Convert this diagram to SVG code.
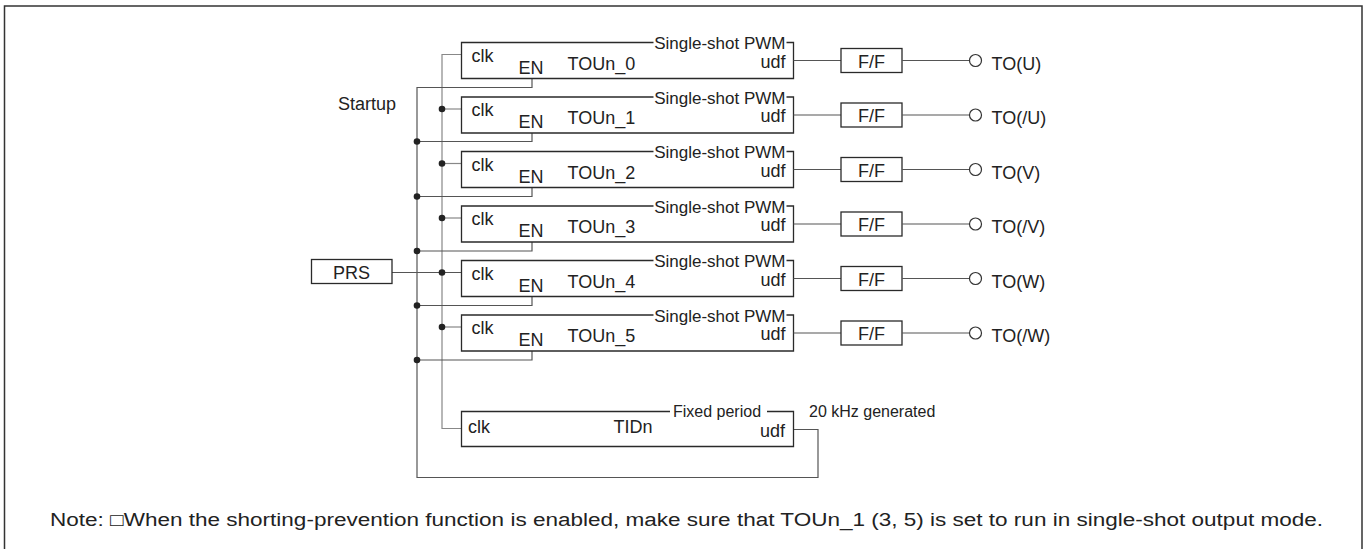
<svg xmlns="http://www.w3.org/2000/svg" width="1370" height="549" viewBox="0 0 1370 549">
<style>
.frame{fill:none;stroke:#333;stroke-width:1.5}
.blk{fill:none;stroke:#2a2a2a;stroke-width:1.3}
.wire{fill:none;stroke:#555;stroke-width:1.2}
.wclk{fill:none;stroke:#888;stroke-width:1.2}
.dot{fill:#222}
.pin{fill:#fff;stroke:#333;stroke-width:1.2}
text{font-family:"Liberation Sans",Arial,sans-serif;fill:#222}
.t16{font-size:16px}
.t17{font-size:17px}
.t18{font-size:18px}
.end{text-anchor:end}
.mid{text-anchor:middle}
</style>
<defs>
<g id="tou">
<path class="blk" d="M192,0 H0 V36 H332 V0 H325"/>
<text class="t17 end" x="324" y="6.5">Single-shot PWM</text>
<text class="t18" x="10" y="19">clk</text>
<text class="t18" x="57" y="31">EN</text>
<text class="t18 end" x="324" y="25">udf</text>
<path class="wire" d="M332,18 H379.5"/>
<rect class="blk" x="379.5" y="6" width="61" height="24"/>
<text class="t18 mid" x="410" y="25">F/F</text>
<path class="wire" d="M440.5,18 H508"/>
<circle class="pin" cx="514" cy="18" r="6"/>
</g>
</defs>
<path class="frame" d="M4.5,549 V6 H1362 V549"/>

<g id="connectors">
<path class="wclk" d="M461.5,54.5 H442 V428.5 H461.5"/>
<path class="wire" d="M532,78.5 V87.5 H417 V477.5 H818 V429.5 H793.5"/>
<path class="wire" d="M532,133 V141.5 H417"/>
<path class="wire" d="M532,187.5 V196.5 H417"/>
<path class="wire" d="M532,242 V251 H417"/>
<path class="wire" d="M532,296.5 V305.5 H417"/>
<path class="wire" d="M532,351 V360 H417"/>
<path class="wclk" d="M442,109 H461.5"/>
<path class="wclk" d="M442,163.5 H461.5"/>
<path class="wclk" d="M442,218 H461.5"/>
<path class="wire" d="M392,272.5 H461.5"/>
<path class="wclk" d="M442,327 H461.5"/>
<circle class="dot" cx="442" cy="109" r="3.3"/>
<circle class="dot" cx="442" cy="163.5" r="3.3"/>
<circle class="dot" cx="442" cy="218" r="3.3"/>
<circle class="dot" cx="442" cy="272.5" r="3.3"/>
<circle class="dot" cx="442" cy="327" r="3.3"/>
<circle class="dot" cx="417" cy="141.5" r="3.3"/>
<circle class="dot" cx="417" cy="196.5" r="3.3"/>
<circle class="dot" cx="417" cy="251" r="3.3"/>
<circle class="dot" cx="417" cy="305.5" r="3.3"/>
<circle class="dot" cx="417" cy="360" r="3.3"/>
</g>

<g id="TOUn_0" transform="translate(461.5,42.5)"><use href="#tou"/><text class="t18" x="106" y="27">TOUn_0</text><text class="t18" x="530" y="27">TO(U)</text></g>
<g id="TOUn_1" transform="translate(461.5,97)"><use href="#tou"/><text class="t18" x="106" y="27">TOUn_1</text><text class="t18" x="530" y="27">TO(/U)</text></g>
<g id="TOUn_2" transform="translate(461.5,151.5)"><use href="#tou"/><text class="t18" x="106" y="27">TOUn_2</text><text class="t18" x="530" y="27">TO(V)</text></g>
<g id="TOUn_3" transform="translate(461.5,206)"><use href="#tou"/><text class="t18" x="106" y="27">TOUn_3</text><text class="t18" x="530" y="27">TO(/V)</text></g>
<g id="TOUn_4" transform="translate(461.5,260.5)"><use href="#tou"/><text class="t18" x="106" y="27">TOUn_4</text><text class="t18" x="530" y="27">TO(W)</text></g>
<g id="TOUn_5" transform="translate(461.5,315)"><use href="#tou"/><text class="t18" x="106" y="27">TOUn_5</text><text class="t18" x="530" y="27">TO(/W)</text></g>

<g id="TIDn">
<path class="blk" d="M670,411.5 H461.5 V446.5 H793.5 V411.5 H767"/>
<text class="t16" x="673" y="417">Fixed period</text>
<text class="t18" x="468" y="433">clk</text>
<text class="t18 mid" x="633" y="433">TIDn</text>
<text class="t18 end" x="785" y="437">udf</text>
</g>

<g id="PRS">
<rect class="blk" x="311.5" y="259.5" width="80.5" height="24"/>
<text class="t18 mid" x="351.5" y="278.5">PRS</text>
</g>

<g id="labels">
<text class="t18" x="338" y="110">Startup</text>
<text class="t16" x="809" y="417">20 kHz generated</text>
<text class="t18" x="50" y="526" textLength="1273" lengthAdjust="spacingAndGlyphs">Note: □When the shorting-prevention function is enabled, make sure that TOUn_1 (3, 5) is set to run in single-shot output mode.</text>
</g>
</svg>
